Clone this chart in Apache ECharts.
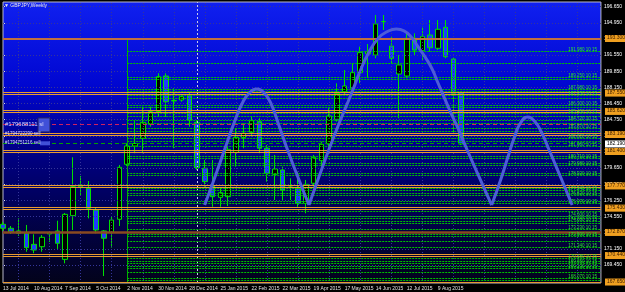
<!DOCTYPE html>
<html><head><meta charset="utf-8">
<script src="https://cdn.jsdelivr.net/npm/echarts@6/dist/echarts.min.js"></script>
<style>html,body{margin:0;padding:0;background:#000;}#c{width:625px;height:292px;}</style>
</head><body><div id="c"></div>
<script>
// ---- data ----
const weekTickLabels = ['13 Jul 2014','10 Aug 2014','7 Sep 2014','5 Oct 2014','2 Nov 2014','30 Nov 2014','28 Dec 2014','25 Jan 2015','22 Feb 2015','22 Mar 2015','19 Apr 2015','17 May 2015','14 Jun 2015','12 Jul 2015','9 Aug 2015'];
const opens  = [173.73,173.31,173.03,172.78,171.62,171.37,172.71,173.03,170.04,174.64,177.69,177.52,175.24,173.03,172.89,174.26,180.05,181.98,182.79,184.26,185.59,189.35,186.72,186.82,187.35,184.47,179.63,177.76,176.57,176.64,181.31,182.89,183.42,184.54,181.74,179.00,179.45,177.63,177.52,175.94,178.05,180.43,182.19,184.79,187.70,188.06,189.70,191.67,191.56,195.07,192.51,189.56,189.35,193.32,192.02,193.67,192.27,194.48,191.14,187.59];
const closes = [173.31,172.95,172.78,171.27,171.02,172.36,172.87,171.73,174.78,177.69,177.87,175.42,173.13,172.26,174.18,179.73,181.98,182.24,184.47,185.59,189.28,186.64,186.77,187.17,184.72,179.69,178.22,176.64,177.06,181.63,182.89,183.32,184.64,181.74,179.10,179.55,177.34,177.66,175.94,177.94,180.79,182.16,185.14,187.53,188.30,189.70,191.81,191.88,194.83,195.09,191.22,190.51,193.32,192.09,193.49,192.33,194.27,191.38,187.53,182.19];
const lows   = [173.03,172.71,172.50,170.84,170.68,170.84,171.87,171.13,169.62,173.13,176.74,174.36,172.78,168.28,171.27,173.55,179.87,181.21,181.21,184.01,185.06,185.06,181.74,186.64,184.01,179.45,177.69,175.58,175.58,175.66,179.80,181.74,182.96,181.21,178.22,176.29,176.29,176.29,175.58,174.89,177.69,179.80,181.56,184.54,187.35,187.35,188.58,189.14,191.22,194.20,190.69,184.90,189.11,191.56,191.04,191.91,192.09,191.22,183.32,182.08];
const highs  = [173.97,173.55,174.36,173.66,172.68,172.60,172.95,174.11,174.92,180.79,178.82,178.29,175.45,173.13,174.60,179.98,182.26,184.72,186.12,186.12,189.64,189.64,188.06,187.35,187.70,184.72,180.50,180.50,177.55,181.90,183.84,184.37,185.06,184.90,182.08,181.03,179.80,178.58,179.27,178.40,181.03,182.43,185.95,188.58,189.98,190.69,192.44,192.72,195.78,195.78,193.49,191.56,193.85,193.85,194.54,195.25,195.25,195.25,191.32,187.70];
const yTickValues = [196.65,194.95,193.25,191.55,189.85,188.15,186.45,184.75,183.05,181.35,179.65,177.95,176.25,174.55,172.85,171.15,169.45];
const orangeLevels = [187.67,187.42,185.72,185.51,183.29,183.08,181.50,181.27,177.87,177.68,175.53,175.32,170.55,170.33,167.65];
const orangeThickLevels = [193.30,172.87];
const orangeLabelValues = [193.30,187.55,185.62,183.19,181.40,177.77,175.43,172.87,170.44,167.65];
const greenLevels = [191.98,190.72,189.25,189.03,187.98,187.77,187.35,187.03,186.30,186.09,185.45,185.14,184.72,184.40,183.87,183.56,182.82,182.50,181.98,180.92,180.71,180.19,179.98,179.13,178.92,177.55,177.34,177.03,176.82,176.19,175.97,175.13,174.60,174.39,174.08,173.87,173.23,172.71,172.50,171.97,171.34,170.39,170.18,169.86,169.65,169.34,169.13,168.71,168.07,167.86];
const cycleArc1 = [[25.97,175.76],[27.25,178.61],[28.52,181.56],[29.80,184.51],[30.83,186.51],[31.72,187.56],[32.74,187.98],[33.64,187.56],[34.54,186.40],[35.56,184.08],[36.84,181.13],[38.12,178.40],[39.40,175.76]];
const cycleArc2 = [[39.40,175.76],[40.68,178.71],[41.95,181.56],[43.36,184.51],[44.90,187.56],[46.05,189.98],[47.07,191.77],[48.35,193.35],[49.63,194.09],[50.65,194.30],[51.68,194.09],[52.57,193.46],[53.46,192.41],[54.36,191.35],[55.26,190.09],[56.02,188.61],[57.69,185.45],[58.58,183.87],[59.61,181.87],[61.14,179.03],[62.93,175.76]];
const cycleArc3 = [[62.93,175.76],[64.08,178.40],[64.98,180.71],[65.87,182.93],[66.64,184.40],[67.54,185.03],[68.43,184.61],[69.33,183.45],[70.22,181.77],[71.37,179.55],[72.39,177.55],[73.29,175.76]];
const currentPrice = 182.19;
const orderLines = [{price:184.30, text:'#179688111 sl'},{price:183.25, text:'#1794722290 sell'},{price:182.26, text:'#1794751216 sell'}];
const greenStartWeek = 16, yearSeparatorWeek = 25, weekCount = 78;
const vGridWeeks = [2,6,10,14,18,22,26,30,34,38,42,46,50,54,58,62,66,70,74];

// ---- chart ----
const chart = echarts.init(document.getElementById('c'), null, {width:625, height:292});
const cats = Array.from({length: weekCount}, (_, i) => String(i));
const candleData = opens.map((o, i) => [o, closes[i], lows[i], highs[i]]);
const F = 'Liberation Sans';
const yMin = 167.547, yMax = 197.145;

const markBase = {symbol:['none','none'], silent:true, animation:false};
function hLine(v, color, width, type) { return {yAxis:v, lineStyle:{color, width, type}, label:{show:false}}; }

const series = [];
series.push({type:'line', xAxisIndex:1, data:[], z:1, markLine:Object.assign({}, markBase, {
  data: yTickValues.map(v => hLine(v, '#35359a', 1, [1,2]))
    .concat(vGridWeeks.map(w => ({xAxis:w, lineStyle:{color:'#35359a', width:1, type:[1,2]}, label:{show:false}})))
    .concat([{xAxis:yearSeparatorWeek, lineStyle:{color:'#c8c8e8', width:1, type:[2,2]}, label:{show:false}}])
})});
series.push({type:'candlestick', xAxisIndex:0, data:candleData, barWidth:5, z:2,
  itemStyle:{color:'#000000', color0:'#1e3cff', borderColor:'#00e000', borderColor0:'#00e000', borderWidth:1}});
series.push({type:'line', xAxisIndex:1, data:[], z:3, markLine:Object.assign({}, markBase, {
  data: greenLevels.map((p, i) => [{coord:[greenStartWeek, p], lineStyle:{color:'#00c000', width:1, type:[2,1]},
      label:{show: i % 2 === 0, position:'insideEndTop', formatter: p.toFixed(3) + ' 10 15', color:'#30e030', fontSize:4.5, fontFamily:F, distance:[4,-1]}},
    {coord:[weekCount - 1, p]}])
    .concat([[{coord:[greenStartWeek, orangeThickLevels[0]], lineStyle:{color:'#00b000', width:1, type:'solid'}, label:{show:false}}, {coord:[greenStartWeek, yMin]}]])
})});
series.push({type:'line', xAxisIndex:1, data:[], z:4, markLine:Object.assign({}, markBase, {
  data: orangeLevels.map(v => hLine(v, '#e89a30', 1, 'solid'))
    .concat([hLine(orangeThickLevels[0], '#c07040', 2, 'solid'), hLine(orangeThickLevels[1], '#8a4a20', 2.5, 'solid')])
})});
series.push({type:'line', xAxisIndex:1, data:[], z:5, markLine:Object.assign({}, markBase, {
  data:[hLine(orderLines[0].price, '#d02060', 1, [4,3]), hLine(orderLines[2].price, '#00a000', 1, [4,3])]
})});
[cycleArc1, cycleArc2, cycleArc3].forEach(arc => series.push({type:'line', xAxisIndex:1, data:arc, smooth:0.5, showSymbol:false, z:7,
  lineStyle:{color:'#4d5cd8', width:3}, silent:true, animation:false}));

chart.setOption({
  animation:false,
  backgroundColor:'#000',
  grid:{left:2, right:21, top:2, bottom:9, show:true, borderColor:'#b8b8c8', borderWidth:1,
    backgroundColor:new echarts.graphic.LinearGradient(0,0,0,1,[
      {offset:0,color:'#1020f0'},{offset:0.3,color:'#0006d0'},{offset:0.5,color:'#00008e'},{offset:0.75,color:'#000050'},{offset:1,color:'#03031a'}])},
  xAxis:[
    {type:'category', data:cats, boundaryGap:false, axisLine:{show:false}, axisTick:{show:false}, splitLine:{show:false},
     axisLabel:{interval:0, align:'left', margin:3, fontSize:5, fontFamily:F, color:'#e0e0e0',
       formatter:(v, i) => (i % 4 === 0 && i / 4 < weekTickLabels.length) ? weekTickLabels[i / 4] : ''}},
    {type:'value', min:0, max:weekCount - 1, show:false}
  ],
  yAxis:{type:'value', position:'right', min:yMin, max:yMax, splitLine:{show:false},
    axisLine:{show:false}, axisTick:{show:true, customValues:yTickValues, length:2, lineStyle:{color:'#ddd'}},
    axisLabel:{customValues:yTickValues, formatter:v => v.toFixed(3), fontSize:5, fontFamily:F, color:'#ffffff', margin:3}},
  series
});

// axis price boxes and text annotations
const g = [];
const rightX = 604;
function priceBox(v, bg, fg) {
  const y = chart.convertToPixel({yAxisIndex:0}, v);
  g.push({type:'rect', shape:{x:rightX + 1, y:y - 3.5, width:20, height:7}, style:{fill:bg}, z:30});
  g.push({type:'text', x:rightX + 3, y:y - 3, style:{text:v.toFixed(3), fill:fg, fontSize:5, fontFamily:F}, z:31});
}
orangeLabelValues.forEach(v => priceBox(v, '#f0a020', '#402000'));
priceBox(currentPrice, '#ffffff', '#000000');
g.push({type:'text', left:4, top:3, style:{text:'▼ GBPJPY,Weekly', fill:'#e8e8f0', fontSize:5, fontFamily:F}, z:20});
orderLines.forEach((o, i) => {
  const pt = chart.convertToPixel({yAxisIndex:0}, o.price);
  g.push({type:'text', x:5, y:pt - 3, style:{text:o.text, fill:'#d8d8ff', fontSize:i === 0 ? 6 : 4.5, fontFamily:F}, z:20});
});
const p0 = chart.convertToPixel({yAxisIndex:0}, orderLines[0].price);
const p2 = chart.convertToPixel({yAxisIndex:0}, orderLines[2].price);
g.push({type:'rect', shape:{x:38, y:p0 - 6, width:12, height:14}, style:{fill:'#4050d8', stroke:'#202060'}, z:19});
g.push({type:'rect', shape:{x:40, y:p2 - 2, width:10, height:4}, style:{fill:'#4050d8'}, z:19});
chart.setOption({graphic:g});
</script></body></html>
